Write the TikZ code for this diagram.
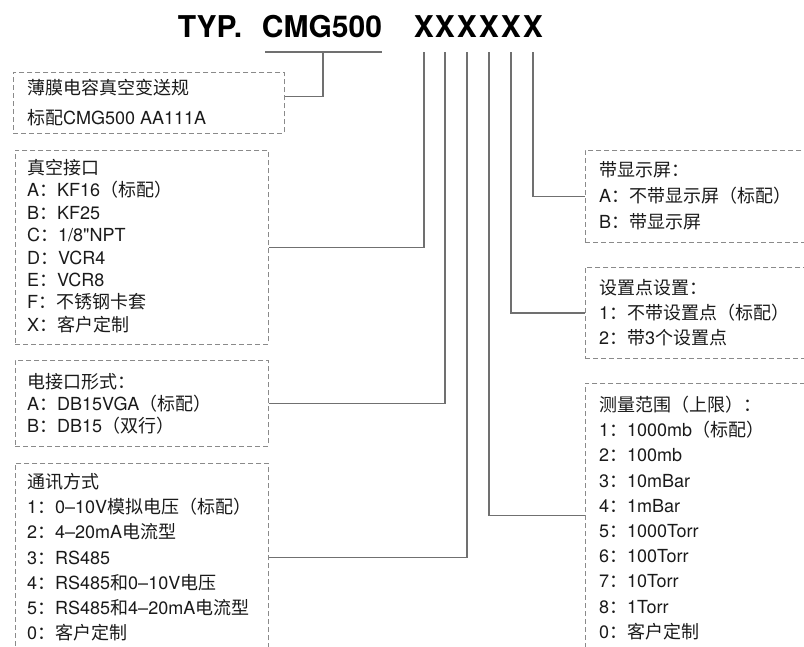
\documentclass[tikz,border=0pt]{standalone}
\usepackage{fontspec}
\setmainfont{TeX Gyre Heros}
\newfontfamily\zhfont{Noto Sans CJK SC}
\newcommand\zh[1]{{\zhfont #1}}
\newcommand\straightquote{{\addfontfeatures{Ligatures=TeXOff}"}}
\definecolor{txtcol}{HTML}{1A1A1A}
\definecolor{conngray}{HTML}{707070}
\definecolor{dashgray}{HTML}{8A8A8A}
\begin{document}
\begin{tikzpicture}[x=1pt,y=-1pt,
  dbox/.style={draw=dashgray, dash pattern=on 5pt off 3pt, line width=0.9pt, rectangle, inner sep=0pt, anchor=north west},
  conn/.style={draw=conngray, line width=1.1pt},
  txt/.style={anchor=base west, inner sep=0pt, text=txtcol, font=\fontsize{18}{22}\selectfont},
  ttl/.style={anchor=base, inner sep=0pt, text=black, font=\fontsize{30}{36}\selectfont\bfseries}]
\useasboundingbox (0,0) rectangle (804,646);
\clip (0,0) rectangle (804,646);
% title
\node[ttl] (typ) at (210,37) {TYP.};
\node[ttl] (cmg) at (322,37) {CMG500};
\node[ttl] (x1) at (424,37) {X};
\node[ttl] (x2) at (445,37) {X};
\node[ttl] (x3) at (467,37) {X};
\node[ttl] (x4) at (489,37) {X};
\node[ttl] (x5) at (511,37) {X};
\node[ttl] (x6) at (533,37) {X};
\coordinate (ul) at (265,52);
\coordinate (ur) at (382,52);
\coordinate (uc) at (323,52);
% boxes
\node[dbox, minimum width=271pt, minimum height=61pt] (box1) at (13,72) {};
\node[dbox, minimum width=253pt, minimum height=194pt] (box2) at (15,150) {};
\node[dbox, minimum width=253pt, minimum height=86pt] (box3) at (15,360) {};
\node[dbox, minimum width=253pt, minimum height=188pt] (box4) at (15,463) {};
\node[dbox, minimum width=230pt, minimum height=92pt] (boxa) at (585,150) {};
\node[dbox, minimum width=230pt, minimum height=91pt] (boxb) at (585,267) {};
\node[dbox, minimum width=230pt, minimum height=264pt] (boxc) at (585,383) {};
% texts
\foreach \t [count=\i] in {{\zh{薄膜电容真空变送规}},{\zh{标配}CMG500 AA111A}}
  \node[txt] (t1-\i) at (27,{94.5+30*(\i-1)}) {\t};
\foreach \t [count=\i] in {{\zh{真空接口}},{A\zh{：}KF16\zh{（标配）}},{B\zh{：}KF25},{C\zh{：}1/8\straightquote NPT},{D\zh{：}VCR4},{E\zh{：}VCR8},{F\zh{：不锈钢卡套}},{X\zh{：客户定制}}}
  \node[txt] (t2-\i) at (27,{174.5+22.4*(\i-1)}) {\t};
\foreach \t [count=\i] in {{\zh{电接口形式：}},{A\zh{：}DB15VGA\zh{（标配）}},{B\zh{：}DB15\zh{（双行）}}}
  \node[txt] (t3-\i) at (27,{388.5+21.8*(\i-1)}) {\t};
\foreach \t [count=\i] in {{\zh{通讯方式}},{1\zh{：}0--10V\zh{模拟电压（标配）}},{2\zh{：}4--20mA\zh{电流型}},{3\zh{：}RS485},{4\zh{：}RS485\zh{和}0--10V\zh{电压}},{5\zh{：}RS485\zh{和}4--20mA\zh{电流型}},{0\zh{：客户定制}}}
  \node[txt] (t4-\i) at (27,{488.5+25.2*(\i-1)}) {\t};
\foreach \t [count=\i] in {{\zh{带显示屏：}},{A\zh{：不带显示屏（标配）}},{B\zh{：带显示屏}}}
  \node[txt] (ta-\i) at (599,{176.5+25.8*(\i-1)}) {\t};
\foreach \t [count=\i] in {{\zh{设置点设置：}},{1\zh{：不带设置点（标配）}},{2\zh{：带}3\zh{个设置点}}}
  \node[txt] (tb-\i) at (599,{294.5+25*(\i-1)}) {\t};
\foreach \t [count=\i] in {{\zh{测量范围（上限）：}},{1\zh{：}1000mb\zh{（标配）}},{2\zh{：}100mb},{3\zh{：}10mBar},{4\zh{：}1mBar},{5\zh{：}1000Torr},{6\zh{：}100Torr},{7\zh{：}10Torr},{8\zh{：}1Torr},{0\zh{：客户定制}}}
  \node[txt] (tc-\i) at (599,{411.5+25.2*(\i-1)}) {\t};
% connectors
\draw[conn] (ul) -- (ur);
\draw[conn] (uc) |- ([yshift=6.5pt]box1.east);
\draw[conn] (x1 |- ul) |- (box2.east);
\draw[conn] (x2 |- ul) |- (box3.east);
\draw[conn] (x3 |- ul) |- (box4.east);
\draw[conn] (x4 |- ul) |- (boxc.west);
\draw[conn] (x5 |- ul) |- (boxb.west);
\draw[conn] (x6 |- ul) |- (boxa.west);
\end{tikzpicture}
\end{document}
